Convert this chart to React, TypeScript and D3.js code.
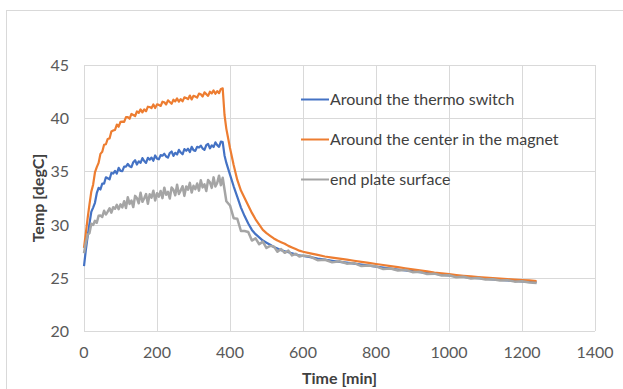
import { useEffect, useRef } from "react";
import * as d3 from "d3";

// time axis (min) – heating phase every 5 min, cooling sparser
const minutes = [
  0, 5, 10, 15, 20, 25, 30, 35, 40, 45, 50, 55, 60, 65, 70, 75, 80, 85, 90, 95,
  100, 105, 110, 115, 120, 125, 130, 135, 140, 145, 150, 155, 160, 165, 170, 175, 180, 185, 190, 195,
  200, 205, 210, 215, 220, 225, 230, 235, 240, 245, 250, 255, 260, 265, 270, 275, 280, 285, 290, 295,
  300, 305, 310, 315, 320, 325, 330, 335, 340, 345, 350, 355, 360, 365, 370, 375, 380,
  385, 390, 400, 410, 420, 430, 440, 450, 460, 470, 480, 490, 500, 510, 520, 530, 540, 550, 560, 570, 580, 590, 600,
  620, 640, 660, 680, 700, 720, 740, 760, 780, 800, 820, 840, 860, 880, 900, 920, 940, 960, 980, 1000,
  1020, 1040, 1060, 1080, 1100, 1120, 1140, 1160, 1180, 1200, 1220, 1240,
];

const thermoSwitch = [
  26.1, 27.6, 28.9, 30.1, 31.2, 31.6, 32.05, 32.95, 33.45, 33.3, 33.85, 33.85, 34.45, 34.35, 34.25, 34.85, 34.8, 35.05, 34.8, 35.33,
  35.05, 35.02, 35.45, 35.45, 35.7, 35.48, 35.4, 35.87, 36.05, 35.65, 35.95, 35.8, 36.25, 35.98, 35.8, 36.28, 36.1, 36.3, 36.0, 36.5,
  36.2, 36.14, 36.53, 36.47, 36.66, 36.4, 36.29, 36.73, 36.87, 36.46, 36.75, 36.59, 37.03, 36.77, 36.61, 37.1, 36.94, 37.13, 36.82, 37.31,
  37.0, 36.93, 37.31, 37.24, 37.42, 37.15, 37.03, 37.46, 37.59, 37.17, 37.45, 37.29, 37.73, 37.47, 37.31, 37.8, 37.75,
  36.5, 35.8, 34.7, 33.6, 32.6, 31.6, 30.8, 30.1, 29.5, 29.1, 28.8, 28.5, 28.3, 28.1, 27.9, 27.75, 27.6, 27.5, 27.4, 27.3, 27.2, 27.1, 27.05,
  26.95, 26.8, 26.7, 26.6, 26.5, 26.42, 26.34, 26.25, 26.15, 26.05, 25.95, 25.86, 25.78, 25.7, 25.62, 25.54, 25.46, 25.38, 25.3, 25.22,
  25.14, 25.08, 25.02, 24.96, 24.91, 24.86, 24.81, 24.76, 24.71, 24.66, 24.62, 24.58,
];

const magnetCenter = [
  27.8, 29.2, 30.6, 31.9, 33.1, 33.75, 34.9, 35.4, 35.8, 36.65, 36.85, 37.5, 37.55, 38.05, 38.1, 38.75, 38.85, 38.9, 39.4, 39.2,
  39.65, 39.68, 39.65, 40.1, 40.1, 39.95, 40.4, 40.3, 40.2, 40.63, 40.5, 40.83, 40.55, 40.83, 40.65, 41.08, 41.05, 40.95, 41.3, 40.95,
  41.3, 41.25, 41.15, 41.55, 41.5, 41.29, 41.68, 41.52, 41.35, 41.74, 41.58, 41.86, 41.55, 41.79, 41.58, 41.96, 41.9, 41.79, 42.13, 41.76,
  42.1, 42.04, 41.93, 42.31, 42.25, 42.04, 42.43, 42.26, 42.1, 42.49, 42.33, 42.61, 42.3, 42.55, 42.35, 42.75, 42.8,
  40.3, 39.0, 37.2, 35.6, 34.2, 33.2, 32.5, 31.8, 31.1, 30.5, 30.0, 29.5, 29.2, 28.95, 28.7, 28.5, 28.35, 28.2, 28.0, 27.85, 27.7, 27.55, 27.45,
  27.3, 27.15, 27.0, 26.9, 26.8, 26.7, 26.6, 26.5, 26.4, 26.3, 26.2, 26.1, 26.0, 25.9, 25.8, 25.7, 25.6, 25.5, 25.42, 25.34,
  25.26, 25.19, 25.13, 25.07, 25.02, 24.97, 24.92, 24.87, 24.83, 24.79, 24.75, 24.7,
];

const endPlate = [
  27.3, 28.3, 29.05, 29.2, 30.08, 29.97, 30.35, 30.17, 30.83, 30.85, 30.72, 31.3, 30.95, 31.22, 31.53, 31.12, 31.63, 31.5, 31.85, 31.45,
  31.9, 31.62, 32.2, 31.56, 32.57, 31.95, 32.25, 31.65, 32.7, 32.5, 32.0, 33.0, 32.14, 32.48, 32.87, 31.96, 32.85, 32.54, 33.18, 32.27,
  32.95, 32.63, 33.16, 32.49, 33.47, 32.8, 33.08, 32.46, 33.49, 33.27, 32.75, 33.74, 32.88, 33.22, 33.61, 32.7, 33.59, 33.28, 33.92, 33.01,
  33.65, 33.33, 33.86, 33.19, 34.17, 33.5, 33.78, 33.16, 34.19, 33.97, 33.45, 34.44, 33.58, 33.92, 34.6, 33.7, 34.4,
  33.3, 32.2, 31.8, 30.6, 30.55, 29.4, 29.4, 29.3, 28.5, 28.7, 28.15, 28.4, 27.8, 28.0, 27.95, 27.45, 27.7, 27.35, 27.55, 27.1, 27.25, 27.0, 27.1,
  27.0, 26.65, 26.7, 26.45, 26.55, 26.33, 26.38, 26.1, 26.15, 26.08, 25.82, 25.88, 25.68, 25.74, 25.53, 25.56, 25.35, 25.39, 25.21, 25.24,
  25.05, 25.09, 24.94, 24.98, 24.83, 24.87, 24.74, 24.78, 24.64, 24.67, 24.55, 24.52,
];

const seriesNames = ["Around the thermo switch", "Around the center in the magnet", "end plate surface"];
const seriesValues = [thermoSwitch, magnetCenter, endPlate];
const seriesColors = ["#4472C4", "#ED7D31", "#A5A5A5"];

const xTicks = [0, 200, 400, 600, 800, 1000, 1200, 1400];
const yTicks = [20, 25, 30, 35, 40, 45];

const W = 623;
const H = 389;
const margin = { left: 84, right: 28, top: 65, bottom: 58 };
const font = "Lato, 'Open Sans', sans-serif";

export default function App() {
  const svgRef = useRef<SVGSVGElement>(null);

  useEffect(() => {
    const svg = d3.select(svgRef.current);
    svg.selectAll("*").remove();

    const x = d3.scaleLinear().domain([0, 1400]).range([margin.left, W - margin.right]);
    const y = d3.scaleLinear().domain([20, 45]).range([H - margin.bottom, margin.top]);

    // chart area frame
    svg.append("rect")
      .attr("x", 6.5).attr("y", 10.5)
      .attr("width", W + 10).attr("height", H + 10)
      .attr("fill", "#fff").attr("stroke", "#d9d9d9");

    // gridlines
    const grid = svg.append("g").attr("stroke", "#d9d9d9").attr("stroke-width", 1);
    grid.selectAll("line.h").data(yTicks).join("line")
      .attr("x1", x(0)).attr("x2", x(1400))
      .attr("y1", (d) => Math.round(y(d)) + 0.5).attr("y2", (d) => Math.round(y(d)) + 0.5);
    grid.selectAll("line.v").data(xTicks).join("line")
      .attr("y1", y(20)).attr("y2", y(45))
      .attr("x1", (d) => Math.round(x(d)) + 0.5).attr("x2", (d) => Math.round(x(d)) + 0.5);

    // tick labels
    svg.append("g").selectAll("text").data(yTicks).join("text")
      .attr("x", x(0) - 15).attr("y", (d) => y(d) + 6)
      .attr("text-anchor", "end")
      .attr("font-family", font).attr("font-size", 16).attr("fill", "#595959")
      .text((d) => d);
    svg.append("g").selectAll("text").data(xTicks).join("text")
      .attr("x", (d) => x(d)).attr("y", y(20) + 27)
      .attr("text-anchor", "middle")
      .attr("font-family", font).attr("font-size", 16).attr("fill", "#595959")
      .text((d) => d);

    // axis titles
    svg.append("text")
      .attr("x", (x(0) + x(1400)) / 2).attr("y", 384)
      .attr("text-anchor", "middle")
      .attr("font-family", font).attr("font-size", 16).attr("font-weight", "bold").attr("fill", "#404040")
      .text("Time [min]");
    svg.append("text")
      .attr("transform", `translate(44,${(y(20) + y(45)) / 2}) rotate(-90)`)
      .attr("text-anchor", "middle")
      .attr("font-family", font).attr("font-size", 16).attr("font-weight", "bold").attr("fill", "#404040")
      .text("Temp [degC]");

    // lines
    const line = d3.line<number>()
      .x((_, i) => x(minutes[i]))
      .y((d) => y(d));
    seriesValues.forEach((vals, k) => {
      svg.append("path")
        .attr("d", line(vals))
        .attr("fill", "none")
        .attr("stroke", seriesColors[k])
        .attr("stroke-width", k === 2 ? 2.5 : 2.2)
        .attr("stroke-linejoin", "round");
    });

    // legend
    const lg = svg.append("g");
    seriesNames.forEach((name, k) => {
      const ly = 99.5 + k * 40;
      lg.append("line")
        .attr("x1", 301).attr("x2", 329).attr("y1", ly).attr("y2", ly)
        .attr("stroke", seriesColors[k]).attr("stroke-width", 2);
      lg.append("text")
        .attr("x", 330).attr("y", ly + 5.5)
        .attr("font-family", font).attr("font-size", 16).attr("fill", "#404040")
        .text(name);
    });
  }, []);

  return (
    <div style={{ position: "absolute", left: 0, top: 0 }}>
      <svg ref={svgRef} width={W} height={H} style={{ display: "block" }} />
    </div>
  );
}
